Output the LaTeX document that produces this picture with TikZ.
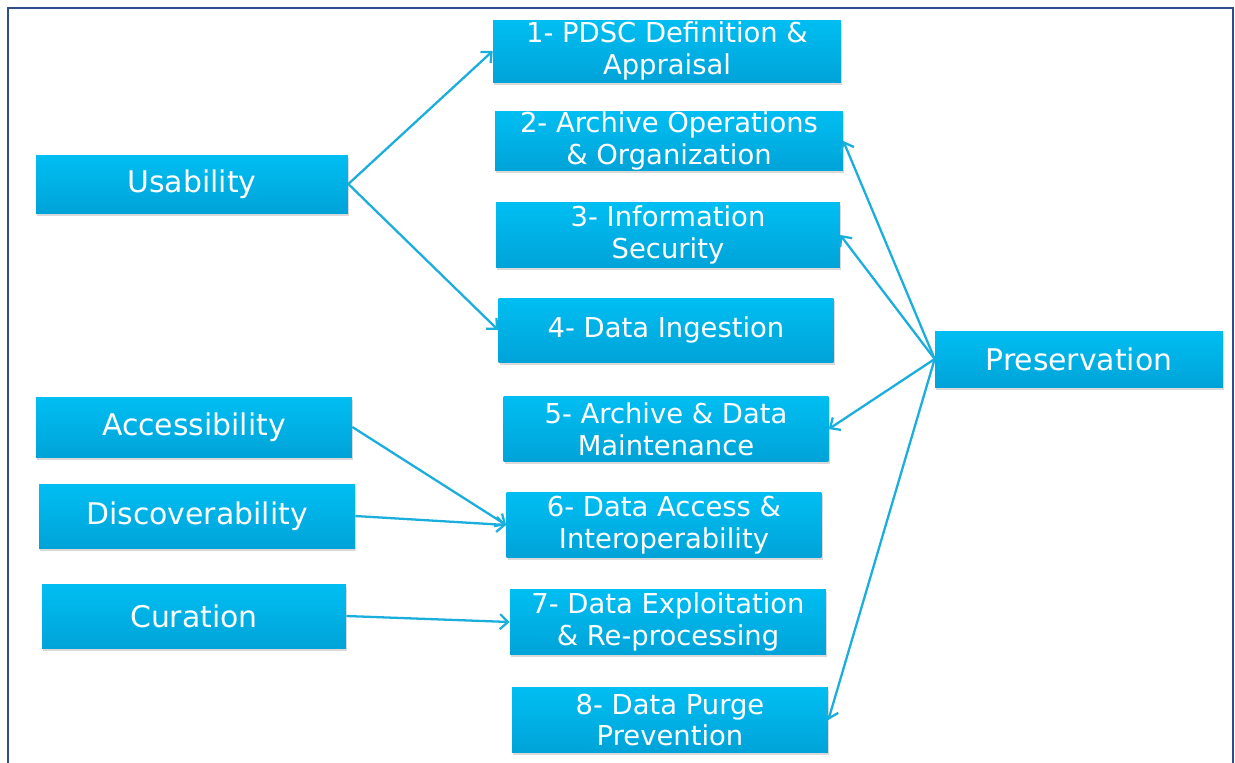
\documentclass[tikz,border=0pt]{standalone}
\usepackage{fontspec}
\setmainfont{DejaVu Sans}
\usetikzlibrary{arrows.meta,shadows}
\definecolor{boxtop}{HTML}{00BEF2}
\definecolor{boxbot}{HTML}{00A3D8}
\definecolor{linkblue}{HTML}{1AAEDD}
\definecolor{framenavy}{HTML}{2F4D8C}

\begin{document}
\begin{tikzpicture}[x=0.02cm,y=-0.02cm,
    box/.style={top color=boxtop,bottom color=boxbot,text=white,inner sep=0pt,align=center,
        drop shadow={shadow xshift=0.8pt,shadow yshift=-1.5pt,opacity=0.3}},
    aspect/.style={box,font=\fontsize{17}{20}\selectfont},
    task/.style={box,font=\fontsize{15.6}{18.2}\selectfont},
    link/.style={draw=linkblue,line width=1.3pt,-{Straight Barb[length=1.6mm,width=3mm]}}]
    \useasboundingbox (0,0) rectangle (1235,762);
    \draw[framenavy,line width=1.2pt] (8,770) -- (8,8) -- (1233,8) -- (1233,770);

    \node[aspect,minimum width=6.24cm,minimum height=1.16cm] (usab) at (192,184) {Usability};
    \node[aspect,minimum width=6.32cm,minimum height=1.2cm] (access) at (194,427) {Accessibility};
    \node[aspect,minimum width=6.32cm,minimum height=1.28cm] (discov) at (197,516) {Discoverability};
    \node[aspect,minimum width=6.08cm,minimum height=1.28cm] (curat) at (194,616) {Curation};
    \node[aspect,minimum width=5.76cm,minimum height=1.12cm] (preserv) at (1079,359) {Preservation};

    \node[task,minimum width=6.96cm,minimum height=1.24cm] (t1) at (667,51) {1- PDSC Definition \&\\Appraisal};
    \node[task,minimum width=6.96cm,minimum height=1.16cm] (t2) at (669,141) {2- Archive Operations\\\& Organization};
    \node[task,minimum width=6.88cm,minimum height=1.3cm] (t3) at (668,235) {3- Information\\Security};
    \node[task,minimum width=6.7cm,minimum height=1.28cm] (t4) at (666,330) {4- Data Ingestion};
    \node[task,minimum width=6.5cm,minimum height=1.3cm] (t5) at (666,429) {5- Archive \& Data\\Maintenance};
    \node[task,minimum width=6.3cm,minimum height=1.3cm] (t6) at (664,525) {6- Data Access \&\\Interoperability};
    \node[task,minimum width=6.32cm,minimum height=1.3cm] (t7) at (668,622) {7- Data Exploitation\\\& Re-processing};
    \node[task,minimum width=6.32cm,minimum height=1.3cm] (t8) at (670,720) {8- Data Purge\\Prevention};

    \draw[link] (usab.east) -- (t1.west);
    \draw[link] (usab.east) -- (t4.west);
    \draw[link] (access.east) -- (t6.west);
    \draw[link] (discov.east) -- (t6.west);
    \draw[link] (curat.east) -- (t7.west);
    \draw[link] (preserv.west) -- (t2.east);
    \draw[link] (preserv.west) -- (t3.east);
    \draw[link] (preserv.west) -- (t5.east);
    \draw[link] (preserv.west) -- (t8.east);
\end{tikzpicture}
\end{document}
